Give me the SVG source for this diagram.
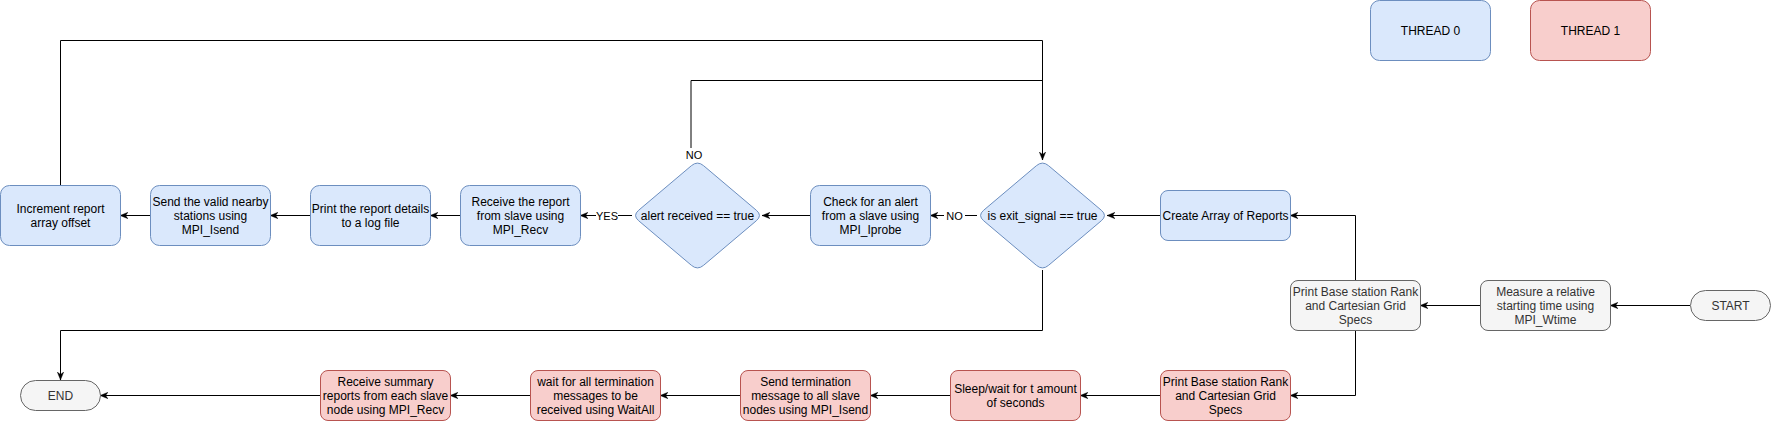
<svg xmlns="http://www.w3.org/2000/svg" width="1772" height="422" viewBox="0 0 1772 422">
  <style>
    .blue { fill: #dae8fc; stroke: #6c8ebf; stroke-width: 1; }
    .red { fill: #f8cecc; stroke: #b85450; stroke-width: 1; }
    .gray { fill: #f5f5f5; stroke: #666666; stroke-width: 1; }
    text { font-family: "Liberation Sans", Arial, sans-serif; font-size: 12px; fill: #000000; text-anchor: middle; dominant-baseline: central; }
    .g text { fill: #333333; }
    .edge { fill: none; stroke: #000000; stroke-width: 1; }
    .lbl { font-size: 11px; fill: #000000; }
    .lblbg { fill: #ffffff; stroke: none; }
  </style>
  <defs>
    <marker id="arr" viewBox="0 0 10 10" refX="10" refY="5" markerWidth="8" markerHeight="8" markerUnits="userSpaceOnUse" orient="auto">
      <path d="M0,1 L10,5 L0,9 L3,5 Z" fill="#000000" stroke="#000000" stroke-width="0.5"/>
    </marker>
    <path id="diamond" d="M-6.1,-49.8 Q0,-55 6.1,-49.8 L58.9,-5.2 Q65,0 58.9,5.2 L6.1,49.8 Q0,55 -6.1,49.8 L-58.9,5.2 Q-65,0 -58.9,-5.2 Z"/>
  </defs>

  <g id="connectors">
    <path class="edge" d="M1690,305.5 L1610,305.5" marker-end="url(#arr)"/>
    <path class="edge" d="M1480,305.5 L1420,305.5" marker-end="url(#arr)"/>
    <path class="edge" d="M1355.5,280 L1355.5,215.5 L1290,215.5" marker-end="url(#arr)"/>
    <path class="edge" d="M1355.5,330 L1355.5,395.5 L1290,395.5" marker-end="url(#arr)"/>
    <path class="edge" d="M1160,395.5 L1080,395.5" marker-end="url(#arr)"/>
    <path class="edge" d="M950,395.5 L870,395.5" marker-end="url(#arr)"/>
    <path class="edge" d="M740,395.5 L660,395.5" marker-end="url(#arr)"/>
    <path class="edge" d="M530,395.5 L450,395.5" marker-end="url(#arr)"/>
    <path class="edge" d="M320,395.5 L100,395.5" marker-end="url(#arr)"/>
    <path class="edge" d="M1160,215.5 L1107,215.5" marker-end="url(#arr)"/>
    <path class="edge" d="M977,215.5 L930,215.5" marker-end="url(#arr)"/>
    <path class="edge" d="M810,215.5 L762,215.5" marker-end="url(#arr)"/>
    <path class="edge" d="M632,215.5 L580,215.5" marker-end="url(#arr)"/>
    <path class="edge" d="M460,215.5 L430,215.5" marker-end="url(#arr)"/>
    <path class="edge" d="M310,215.5 L270,215.5" marker-end="url(#arr)"/>
    <path class="edge" d="M150,215.5 L120,215.5" marker-end="url(#arr)"/>
    <path class="edge" d="M60.5,185 L60.5,40.5 L1042.5,40.5 L1042.5,160" marker-end="url(#arr)"/>
    <path class="edge" d="M691,160 L691,80.5 L1042.5,80.5"/>
    <path class="edge" d="M1042.5,270 L1042.5,330.5 L60.5,330.5 L60.5,380" marker-end="url(#arr)"/>
    <rect class="lblbg" x="944" y="208" width="21" height="14"/>
    <text class="lbl" x="954.5" y="216">NO</text>
    <rect class="lblbg" x="596" y="208" width="22" height="14"/>
    <text class="lbl" x="607" y="216">YES</text>
    <rect class="lblbg" x="684" y="148" width="21" height="13"/>
    <text class="lbl" x="694" y="155">NO</text>
  </g>

  <g id="legend-thread0">
    <rect class="blue" x="1370.5" y="0.5" width="120" height="60" rx="9"/>
    <text x="1430.5" y="31">THREAD 0</text>
  </g>
  <g id="legend-thread1">
    <rect class="red" x="1530.5" y="0.5" width="120" height="60" rx="9"/>
    <text x="1590.5" y="31">THREAD 1</text>
  </g>

  <g id="start" class="g">
    <rect class="gray" x="1690.5" y="290.5" width="80" height="30" rx="15"/>
    <text x="1730.5" y="306">START</text>
  </g>
  <g id="measure" class="g">
    <rect class="gray" x="1480.5" y="280.5" width="130" height="50" rx="7.5"/>
    <text x="1545.5" y="291.5">Measure a relative</text>
    <text x="1545.5" y="305.5">starting time using</text>
    <text x="1545.5" y="319.5">MPI_Wtime</text>
  </g>
  <g id="print-base-gray" class="g">
    <rect class="gray" x="1290.5" y="280.5" width="130" height="50" rx="7.5"/>
    <text x="1355.5" y="291.5">Print Base station Rank</text>
    <text x="1355.5" y="305.5">and Cartesian Grid</text>
    <text x="1355.5" y="319.5">Specs</text>
  </g>

  <g id="create-array">
    <rect class="blue" x="1160.5" y="190.5" width="130" height="50" rx="7.5"/>
    <text x="1225.5" y="215.5">Create Array of Reports</text>
  </g>
  <g id="exit-signal">
    <use href="#diamond" class="blue" transform="translate(1042.5,215.5)"/>
    <text x="1042.5" y="215.5">is exit_signal == true</text>
  </g>
  <g id="check-alert">
    <rect class="blue" x="810.5" y="185.5" width="120" height="60" rx="9"/>
    <text x="870.5" y="201.5">Check for an alert</text>
    <text x="870.5" y="215.5">from a slave using</text>
    <text x="870.5" y="229.5">MPI_Iprobe</text>
  </g>
  <g id="alert-received">
    <use href="#diamond" class="blue" transform="translate(697.5,215.5)"/>
    <text x="697.5" y="215.5">alert received == true</text>
  </g>
  <g id="receive-report">
    <rect class="blue" x="460.5" y="185.5" width="120" height="60" rx="9"/>
    <text x="520.5" y="201.5">Receive the report</text>
    <text x="520.5" y="215.5">from slave using</text>
    <text x="520.5" y="229.5">MPI_Recv</text>
  </g>
  <g id="print-report">
    <rect class="blue" x="310.5" y="185.5" width="120" height="60" rx="9"/>
    <text x="370.5" y="208.5">Print the report details</text>
    <text x="370.5" y="222.5">to a log file</text>
  </g>
  <g id="send-valid">
    <rect class="blue" x="150.5" y="185.5" width="120" height="60" rx="9"/>
    <text x="210.5" y="201.5">Send the valid nearby</text>
    <text x="210.5" y="215.5">stations using</text>
    <text x="210.5" y="229.5">MPI_Isend</text>
  </g>
  <g id="increment">
    <rect class="blue" x="0.5" y="185.5" width="120" height="60" rx="9"/>
    <text x="60.5" y="208.5">Increment report</text>
    <text x="60.5" y="222.5">array offset</text>
  </g>

  <g id="print-base-red">
    <rect class="red" x="1160.5" y="370.5" width="130" height="50" rx="7.5"/>
    <text x="1225.5" y="381.5">Print Base station Rank</text>
    <text x="1225.5" y="395.5">and Cartesian Grid</text>
    <text x="1225.5" y="409.5">Specs</text>
  </g>
  <g id="sleep">
    <rect class="red" x="950.5" y="370.5" width="130" height="50" rx="7.5"/>
    <text x="1015.5" y="388.5">Sleep/wait for t amount</text>
    <text x="1015.5" y="402.5">of seconds</text>
  </g>
  <g id="send-termination">
    <rect class="red" x="740.5" y="370.5" width="130" height="50" rx="7.5"/>
    <text x="805.5" y="381.5">Send termination</text>
    <text x="805.5" y="395.5">message to all slave</text>
    <text x="805.5" y="409.5">nodes using MPI_Isend</text>
  </g>
  <g id="wait-all">
    <rect class="red" x="530.5" y="370.5" width="130" height="50" rx="7.5"/>
    <text x="595.5" y="381.5">wait for all termination</text>
    <text x="595.5" y="395.5">messages to be</text>
    <text x="595.5" y="409.5">received using WaitAll</text>
  </g>
  <g id="receive-summary">
    <rect class="red" x="320.5" y="370.5" width="130" height="50" rx="7.5"/>
    <text x="385.5" y="381.5">Receive summary</text>
    <text x="385.5" y="395.5">reports from each slave</text>
    <text x="385.5" y="409.5">node using MPI_Recv</text>
  </g>
  <g id="end" class="g">
    <rect class="gray" x="20.5" y="380.5" width="80" height="30" rx="15"/>
    <text x="60.5" y="396">END</text>
  </g>
</svg>
